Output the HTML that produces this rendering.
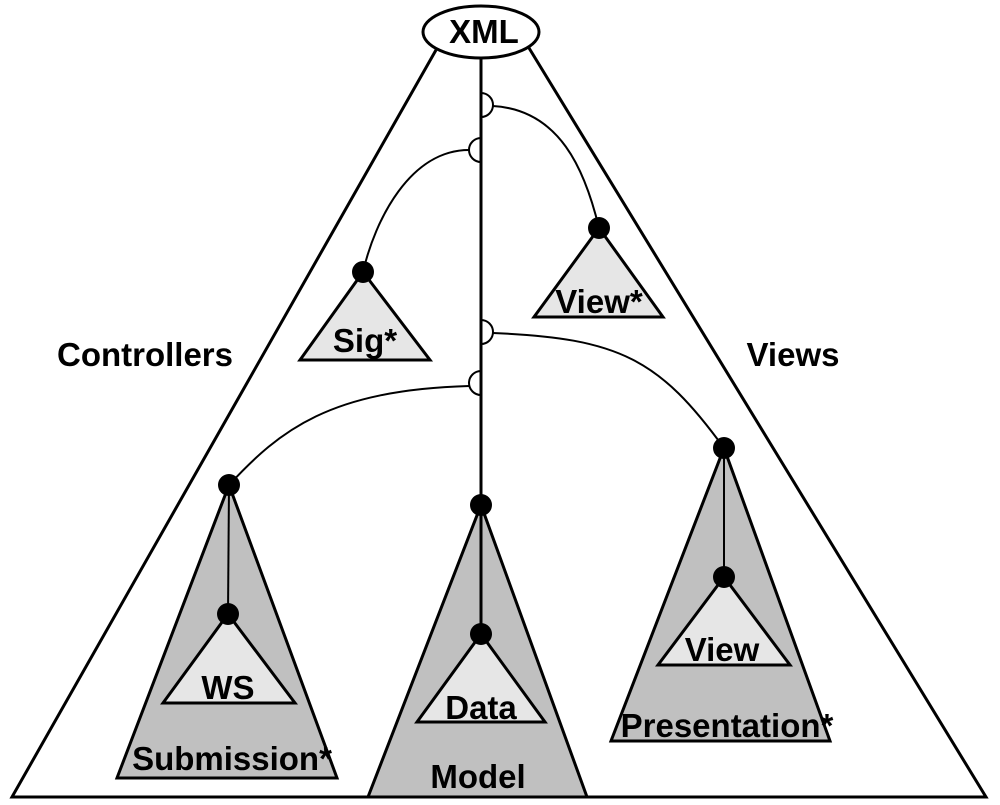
<!DOCTYPE html>
<html><head><meta charset="utf-8"><style>
html,body{margin:0;padding:0;background:#fff;}
svg text{font-family:"Liberation Sans",Arial,sans-serif;font-weight:bold;fill:#000;}
</style></head><body>
<svg width="1000" height="800" viewBox="0 0 1000 800" xmlns="http://www.w3.org/2000/svg">
<g stroke="#000" stroke-width="3" fill="none">
<polyline points="436,50 12,797 986,797 529,48"/>
</g>
<g stroke="#000" stroke-width="3">
<polygon points="229,485 117,778 337,778" fill="#c0c0c0"/>
<polygon points="481,505 368,797 587,797" fill="#c0c0c0"/>
<polygon points="724,448 611,741 830,741" fill="#c0c0c0"/>
<polygon points="228,614 163,703 295,703" fill="#e6e6e6"/>
<polygon points="481,634 417,722 545,722" fill="#e6e6e6"/>
<polygon points="724,577 658,665 790,665" fill="#e6e6e6"/>
<polygon points="363,272 300,360 430,360" fill="#e6e6e6"/>
<polygon points="599,228 534,317 663,317" fill="#e6e6e6"/>
</g>
<g stroke="#000" stroke-width="2" fill="none">
<line x1="229" y1="485" x2="228" y2="614"/>
<line x1="724" y1="448" x2="724" y2="577"/>
<line x1="481" y1="57" x2="481" y2="634" stroke-width="3"/>
<path d="M481,93 A12,12 0 0 1 481,117"/>
<path d="M481,138 A12,12 0 0 0 481,162"/>
<path d="M481,320 A12,12 0 0 1 481,344"/>
<path d="M481,371 A12,12 0 0 0 481,395"/>
<path d="M493,106 C560,110 585,170 599,228"/>
<path d="M469,150 C410,150 375,220 363,272"/>
<path d="M493,333 C620,338 660,360 724,448"/>
<path d="M469,386 C330,390 280,430 229,485"/>
</g>
<g fill="#000">
<circle cx="229" cy="485" r="11"/>
<circle cx="228" cy="614" r="11"/>
<circle cx="481" cy="505" r="11"/>
<circle cx="481" cy="634" r="11"/>
<circle cx="724" cy="448" r="11"/>
<circle cx="724" cy="577" r="11"/>
<circle cx="363" cy="272" r="11"/>
<circle cx="599" cy="228" r="11"/>
</g>
<ellipse cx="481" cy="32" rx="58" ry="26" fill="#fff" stroke="#000" stroke-width="3"/>
<g font-size="33" text-anchor="middle">
<text x="484" y="43">XML</text>
<text x="145" y="366">Controllers</text>
<text x="793" y="366">Views</text>
<text x="365" y="352">Sig*</text>
<text x="599" y="313">View*</text>
<text x="228" y="699">WS</text>
<text x="481" y="719">Data</text>
<text x="722" y="661">View</text>
<text x="232" y="770">Submission*</text>
<text x="478" y="788">Model</text>
<text x="727" y="737">Presentation*</text>
</g>
</svg>
</body></html>
